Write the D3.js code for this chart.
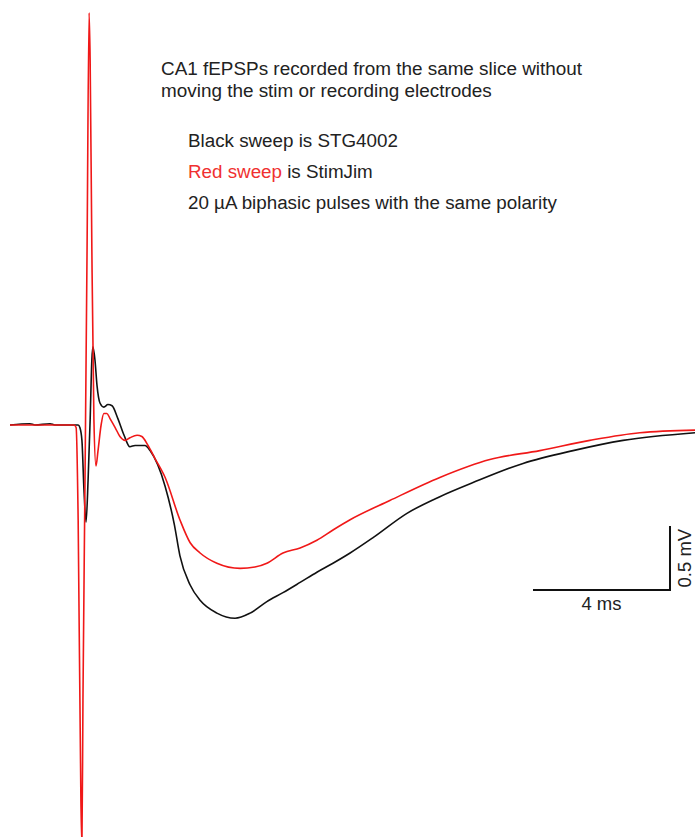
<!DOCTYPE html>
<html>
<head>
<meta charset="utf-8">
<script src="https://cdn.jsdelivr.net/npm/d3@7"></script>
<style>
	body { margin: 0; background: #fff; }
	svg { display: block; }
	text { font-family: "Liberation Sans", Arial, sans-serif; fill: #222; }
</style>
</head>
<body>
<div id="chart"></div>
<script>
// sweep times (ms) and voltages (mV)
var blackTime = [0, 0.58, 0.73, 1.17, 1.31, 1.99, 2.04, 2.10, 2.16, 2.22, 2.28, 2.34, 2.39, 2.42, 2.48, 2.54, 2.63, 2.74, 2.86, 2.98, 3.15, 3.33, 3.50, 3.65, 3.80, 3.94, 4.09, 4.53, 4.80, 4.96, 5.26, 5.55, 6.04, 6.57, 7.01, 7.50, 7.97, 8.47, 8.96, 9.43, 9.93, 10.60, 11.59, 12.55, 13.52, 14.98, 16.44, 17.90, 20.00];
var blackMv = [0, 0.01, 0, 0.01, 0, 0, -0.02, -0.12, -0.51, -0.76, -0.43, 0.04, 0.51, 0.61, 0.51, 0.31, 0.17, 0.14, 0.16, 0.15, 0.05, -0.08, -0.17, -0.16, -0.16, -0.16, -0.20, -0.48, -0.78, -1.02, -1.25, -1.37, -1.47, -1.51, -1.47, -1.38, -1.31, -1.23, -1.15, -1.08, -1.00, -0.88, -0.69, -0.56, -0.45, -0.30, -0.20, -0.12, -0.06];

var redTime = [0, 1.87, 1.93, 1.99, 2.07, 2.10, 2.13, 2.19, 2.25, 2.31, 2.34, 2.39, 2.45, 2.51, 2.57, 2.66, 2.74, 2.83, 2.92, 3.07, 3.21, 3.36, 3.50, 3.71, 3.85, 4.03, 4.23, 4.53, 4.96, 5.26, 5.55, 6.04, 6.72, 7.15, 7.50, 7.97, 8.47, 8.96, 9.43, 9.93, 11.09, 12.55, 14.01, 15.47, 16.93, 18.39, 20.00];
var redMv = [0, 0, -0.02, -0.74, -2.93, -3.28, -2.15, -0.43, 1.37, 3.22, 2.85, 1.37, 0.04, -0.32, -0.20, 0, 0.09, 0.09, 0.05, -0.02, -0.09, -0.12, -0.10, -0.08, -0.09, -0.16, -0.26, -0.41, -0.74, -0.92, -1.00, -1.08, -1.12, -1.11, -1.08, -1.00, -0.96, -0.90, -0.82, -0.74, -0.59, -0.41, -0.27, -0.20, -0.12, -0.06, -0.04];

var titleLines = ["CA1 fEPSPs recorded from the same slice without", "moving the stim or recording electrodes"];
var noteLines = [
	[{t: "Black sweep is STG4002", red: false}],
	[{t: "Red sweep", red: true}, {t: " is StimJim", red: false}],
	[{t: "20 \u00b5A biphasic pulses with the same polarity", red: false}]
];
var scaleBarMs = 4;
var scaleBarMv = 0.5;

var width = 695, height = 837;

var svg = d3.select("#chart").append("svg")
	.attr("width", width)
	.attr("height", height);

var x = d3.scaleLinear().domain([0, 20]).range([10, 695]);
var y = d3.scaleLinear().domain([-1, 1]).range([553, 297]);

function zip(ts, vs) {
	return ts.map(function (t, i) {
		return {t: t, v: vs[i]};
	});
}

var line = d3.line()
	.x(function (d) { return x(d.t); })
	.y(function (d) { return y(d.v); })
	.curve(d3.curveMonotoneX);

svg.append("path")
	.datum(zip(blackTime, blackMv))
	.attr("d", line)
	.style("fill", "none")
	.style("stroke", "#111")
	.style("stroke-width", 1.6)
	.style("stroke-linejoin", "round");

svg.append("path")
	.datum(zip(redTime, redMv))
	.attr("d", line)
	.style("fill", "none")
	.style("stroke", "#f01818")
	.style("stroke-width", 1.6)
	.style("stroke-linejoin", "round");

// text block
svg.selectAll("text.title")
	.data(titleLines)
	.enter().append("text")
	.attr("class", "title")
	.attr("x", 161)
	.attr("y", function (d, i) { return 75 + i * 22; })
	.style("font-size", "18.9px")
	.text(function (d) { return d; });

noteLines.forEach(function (parts, i) {
	var t = svg.append("text")
		.attr("x", 188)
		.attr("y", 147 + i * 31)
		.style("font-size", "18.8px")
		.attr("xml:space", "preserve");
	parts.forEach(function (p) {
		t.append("tspan")
			.style("fill", p.red ? "#f03030" : "#222")
			.text(p.t);
	});
});

// scale bar, anchored at its corner
var barT = 19.27, barV = -1.29;
var g = svg.append("g");
g.append("path")
	.attr("d", "M" + x(barT - scaleBarMs) + "," + y(barV) +
		"H" + x(barT) + "V" + y(barV + scaleBarMv))
	.style("fill", "none")
	.style("stroke", "#111")
	.style("stroke-width", 2);

g.append("text")
	.attr("x", (x(barT - scaleBarMs) + x(barT)) / 2)
	.attr("y", y(barV) + 20)
	.attr("text-anchor", "middle")
	.style("font-size", "18.5px")
	.text(scaleBarMs + " ms");

g.append("text")
	.attr("transform", "translate(" + (x(barT) + 21) + "," + ((y(barV) + y(barV + scaleBarMv)) / 2) + ") rotate(-90)")
	.attr("text-anchor", "middle")
	.style("font-size", "18.5px")
	.text(scaleBarMv + " mV");
</script>
</body>
</html>
